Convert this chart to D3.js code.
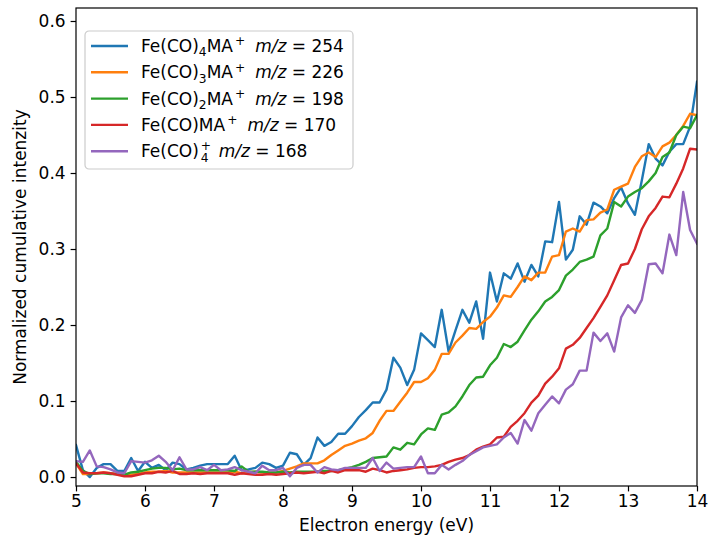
<!DOCTYPE html>
<html>
<head>
<meta charset="utf-8">
<script src="https://cdn.jsdelivr.net/npm/d3@7"></script>
<style>
  body { margin: 0; background: #fff; }
  text { font-family: "DejaVu Sans", sans-serif; }
</style>
</head>
<body>
<div id="chart"></div>
<script>
// energy grid 5.0 .. 14.0 eV in 0.1 eV steps
const energy = d3.range(91).map(i => +(5 + i * 0.1).toFixed(1));

// Fe(CO)4MA+ m/z = 254
const mz254 = [
  .042,.009,.000,.012,.017,.017,.008,.008,.025,.008,
  .020,.012,.016,.009,.019,.017,.010,.012,.015,.017,
  .017,.017,.017,.028,.009,.010,.012,.019,.017,.012,
  .015,.032,.030,.016,.025,.052,.041,.046,.057,.057,
  .067,.079,.088,.098,.098,.115,.157,.144,.121,.141,
  .189,.180,.171,.220,.165,.193,.220,.203,.231,.182,
  .269,.231,.268,.261,.281,.257,.279,.264,.310,.309,
  .362,.286,.299,.343,.332,.361,.356,.347,.367,.381,
  .360,.345,.390,.438,.419,.410,.428,.438,.438,.461,.520];

// Fe(CO)3MA+ m/z = 226
const mz226 = [
  .018,.004,.004,.005,.006,.005,.004,.002,.003,.004,
  .006,.007,.007,.008,.006,.006,.006,.006,.006,.006,
  .006,.006,.006,.007,.005,.006,.007,.006,.005,.006,
  .008,.011,.014,.018,.018,.018,.022,.029,.035,.041,
  .044,.048,.051,.058,.074,.087,.087,.099,.111,.125,
  .125,.130,.141,.162,.162,.177,.186,.196,.195,.204,
  .211,.223,.239,.237,.250,.264,.259,.269,.269,.290,
  .292,.323,.327,.323,.338,.339,.348,.352,.378,.382,
  .386,.408,.422,.427,.421,.435,.440,.450,.462,.478,.476];

// Fe(CO)2MA+ m/z = 198
const mz198 = [
  .020,.008,.004,.005,.005,.004,.004,.003,.006,.007,
  .009,.011,.012,.012,.010,.011,.009,.009,.009,.009,
  .009,.009,.009,.008,.014,.007,.007,.007,.006,.006,
  .007,.006,.007,.007,.007,.007,.008,.008,.009,.011,
  .013,.016,.020,.025,.026,.027,.039,.036,.045,.043,
  .056,.064,.062,.082,.085,.093,.106,.121,.131,.132,
  .147,.157,.175,.171,.178,.193,.207,.218,.231,.237,
  .246,.265,.273,.283,.286,.290,.318,.327,.362,.356,
  .369,.375,.380,.389,.400,.421,.427,.450,.461,.459,.476];

// Fe(CO)MA+ m/z = 170
const mz170 = [
  .018,.006,.005,.005,.006,.005,.003,.001,.001,.003,
  .005,.005,.007,.006,.008,.004,.004,.005,.004,.005,
  .005,.005,.005,.003,.005,.004,.003,.003,.004,.003,
  .004,.005,.006,.005,.006,.007,.005,.008,.006,.009,
  .009,.009,.007,.011,.009,.006,.008,.009,.010,.012,
  .013,.013,.014,.016,.020,.023,.025,.029,.036,.040,
  .043,.052,.053,.066,.074,.084,.098,.107,.123,.132,
  .143,.169,.174,.183,.196,.209,.224,.239,.259,.279,
  .281,.300,.326,.343,.354,.369,.368,.386,.406,.432,.431];

// Fe(CO)4+ m/z = 168
const mz168 = [
  .021,.020,.035,.014,.013,.010,.006,.005,.021,.020,
  .019,.022,.028,.020,.009,.026,.010,.010,.013,.009,
  .016,.009,.010,.013,.009,.007,.005,.015,.009,.009,
  .012,.001,.012,.016,.016,.006,.013,.010,.009,.012,
  .012,.012,.012,.025,.008,.019,.011,.012,.013,.013,
  .027,.005,.005,.016,.010,.016,.021,.029,.034,.039,
  .041,.043,.052,.058,.044,.075,.061,.084,.095,.106,
  .097,.115,.122,.140,.140,.190,.179,.189,.165,.210,
  .226,.216,.233,.280,.281,.268,.319,.292,.375,.325,.307];

const series = [mz254, mz226, mz198, mz170, mz168];
const colors = ["#1f77b4", "#ff7f0e", "#2ca02c", "#d62728", "#9467bd"];

// legend labels as [text, style] pieces (mathtext look)
const labels = [
  [["Fe(CO)", ""], ["4", "sub"], ["MA", ""], ["+", "sup"], ["m/z", "it"], [" = 254", ""]],
  [["Fe(CO)", ""], ["3", "sub"], ["MA", ""], ["+", "sup"], ["m/z", "it"], [" = 226", ""]],
  [["Fe(CO)", ""], ["2", "sub"], ["MA", ""], ["+", "sup"], ["m/z", "it"], [" = 198", ""]],
  [["Fe(CO)MA", ""], ["+", "sup"], ["m/z", "it"], [" = 170", ""]],
  [["Fe(CO)", ""], ["+", "sup"], ["4", "subback"], ["m/z", "it"], [" = 168", ""]]
];

const xTicks = [5, 6, 7, 8, 9, 10, 11, 12, 13, 14];
const yTicks = [0.0, 0.1, 0.2, 0.3, 0.4, 0.5, 0.6];

const W = 708, H = 540;
const margin = {top: 8, right: 11, bottom: 54, left: 76};
const fs = 17;

const svg = d3.select("#chart").append("svg")
  .attr("width", W).attr("height", H);

const x = d3.scaleLinear().domain([5, 14]).range([margin.left, W - margin.right]);
const y = d3.scaleLinear().domain([-0.0118, 0.6171]).range([H - margin.bottom, margin.top]);

svg.append("clipPath").attr("id", "clip")
  .append("rect")
  .attr("x", margin.left).attr("y", margin.top)
  .attr("width", W - margin.left - margin.right)
  .attr("height", H - margin.top - margin.bottom);

// lines
const line = d3.line()
  .x((d, i) => x(energy[i]))
  .y(d => y(d));

svg.append("g").attr("clip-path", "url(#clip)")
  .selectAll("path")
  .data(series)
  .enter().append("path")
  .attr("d", d => line(d))
  .attr("fill", "none")
  .attr("stroke", (d, i) => colors[i])
  .attr("stroke-width", 2.4)
  .attr("stroke-linejoin", "round")
  .attr("stroke-linecap", "square");

// axes
const xAxis = svg.append("g")
  .attr("transform", "translate(0," + (H - margin.bottom) + ")")
  .call(d3.axisBottom(x).tickValues(xTicks).tickFormat(d3.format("d")).tickSizeInner(5.4).tickSizeOuter(0).tickPadding(4));
const yAxis = svg.append("g")
  .attr("transform", "translate(" + margin.left + ",0)")
  .call(d3.axisLeft(y).tickValues(yTicks).tickFormat(d3.format(".1f")).tickSizeInner(5.4).tickSizeOuter(0).tickPadding(5));

[xAxis, yAxis].forEach(a => {
  a.select(".domain").remove();
  a.selectAll("line").attr("stroke", "#000").attr("stroke-width", 1.2);
  a.selectAll("text").attr("font-size", fs).attr("fill", "#000")
    .style("font-family", "DejaVu Sans");
});

// frame
svg.append("rect")
  .attr("x", margin.left).attr("y", margin.top)
  .attr("width", W - margin.left - margin.right)
  .attr("height", H - margin.top - margin.bottom)
  .attr("fill", "none").attr("stroke", "#000").attr("stroke-width", 1.2);

// axis labels
svg.append("text")
  .attr("x", (margin.left + W - margin.right) / 2)
  .attr("y", H - 9)
  .attr("text-anchor", "middle")
  .attr("font-size", fs)
  .text("Electron energy (eV)");

svg.append("text")
  .attr("transform", "translate(26," + ((margin.top + H - margin.bottom) / 2) + ") rotate(-90)")
  .attr("text-anchor", "middle")
  .attr("font-size", fs)
  .text("Normalized cumulative intenzity");

// legend
const lg = svg.append("g").attr("transform", "translate(85,31)");
lg.append("rect")
  .attr("width", 268).attr("height", 138)
  .attr("rx", 4).attr("ry", 4)
  .attr("fill", "#fff").attr("fill-opacity", 0.8)
  .attr("stroke", "#cccccc").attr("stroke-width", 1.2);

labels.forEach((parts, i) => {
  const cy = 15 + i * 26.3;
  lg.append("line")
    .attr("x1", 6).attr("x2", 43)
    .attr("y1", cy).attr("y2", cy)
    .attr("stroke", colors[i]).attr("stroke-width", 2.4);

  const t = lg.append("text")
    .attr("x", 56).attr("y", cy + 6)
    .attr("font-size", fs);
  let shift = 0, prev = null;
  parts.forEach(([s, kind]) => {
    const ts = t.append("tspan").text(s);
    let target = 0;
    if (kind === "sub" || kind === "subback") {
      target = 0.26 * fs;
      ts.attr("font-size", fs * 0.72);
    } else if (kind === "sup") {
      target = -0.4 * fs;
      ts.attr("font-size", fs * 0.72);
      ts.attr("dx", 2);
    }
    if (kind === "it") {
      ts.attr("font-style", "italic").attr("dx", 10);
    }
    if (kind === "subback" && prev) {
      ts.attr("dx", -prev.node().getComputedTextLength());
    }
    ts.attr("dy", target - shift);
    shift = target;
    prev = ts;
  });
});
</script>
</body>
</html>
